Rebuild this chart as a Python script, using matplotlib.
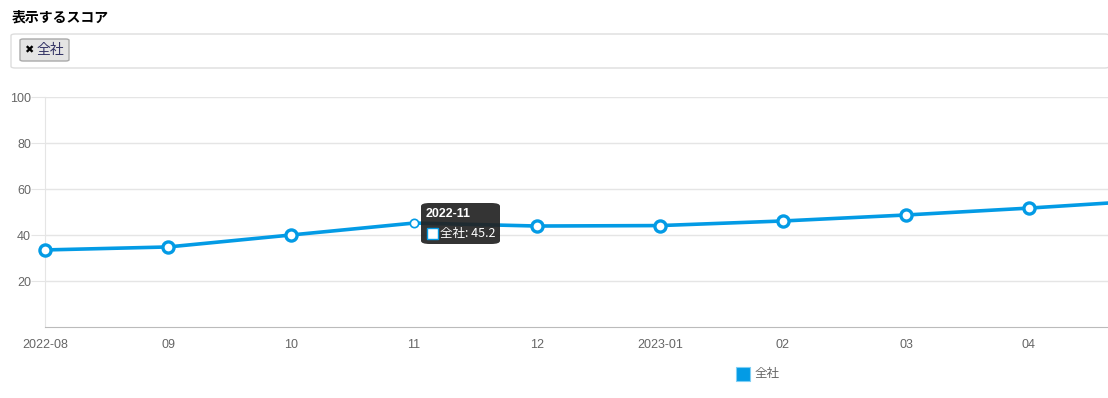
import matplotlib.pyplot as plt
from matplotlib.patches import FancyBboxPatch, Rectangle

plt.rcParams["font.family"] = ["Liberation Sans", "Noto Sans CJK JP", "DejaVu Sans"]

months = ["2022-08", "09", "10", "11", "12", "2023-01", "02", "03", "04", "05"]
scores = [33.5, 34.8, 40.0, 45.2, 43.9, 44.1, 46.1, 48.7, 51.7, 55.1]
y_ticks = [20, 40, 60, 80, 100]
series_name = "全社"
hover_idx = 3

BLUE = "#039be5"
W, H = 1108, 398
JP = ["Noto Sans CJK JP", "DejaVu Sans"]

fig = plt.figure(figsize=(W / 100, H / 100), dpi=100)

# axes placed in pixel coordinates of the original page
ax = fig.add_axes([45 / W, (H - 327) / H, (W - 45) / W, 230 / H])
x = list(range(len(months)))
ax.plot(x, scores, color=BLUE, lw=2.6, zorder=3)
others = [i for i in x if i != hover_idx]
ax.plot(others, [scores[i] for i in others], "o", ms=8, mfc="white", mec=BLUE, mew=2.4,
        zorder=4, clip_on=False)
# the hovered point is drawn thinner
ax.plot(x[hover_idx], scores[hover_idx], "o", ms=6, mfc="white", mec=BLUE, mew=1.2, zorder=4)
ax.set_xlim(0, (W - 45) / 123)
ax.set_ylim(0, 100)
ax.set_yticks(y_ticks)
ax.set_xticks(x[:-1])
ax.set_xticklabels(months[:-1])
ax.tick_params(axis="y", length=10, color="#e5e5e5", labelcolor="#666666", labelsize=9, pad=0)
ax.tick_params(axis="x", length=0, labelcolor="#666666", labelsize=9, pad=9)
ax.grid(axis="y", color="#e5e5e5", lw=1)
for s in ["top", "right"]:
    ax.spines[s].set_visible(False)
ax.spines["left"].set_color("#e5e5e5")
ax.spines["bottom"].set_color("#bbbbbb")
ax.set_axisbelow(True)

# tooltip for the hovered point
tip = FancyBboxPatch((421 / W, (H - 244) / H), 79 / W, 41 / H,
                     boxstyle="round,pad=0,rounding_size=0.008",
                     transform=fig.transFigure, fc="#222222", ec="none", alpha=0.92, zorder=10)
fig.add_artist(tip)
fig.text(426 / W, (H - 214) / H, "2022-11", color="white", fontsize=9, fontweight="bold",
         va="center", zorder=11)
fig.add_artist(Rectangle((427 / W, (H - 239) / H), 11 / W, 11 / H, transform=fig.transFigure,
                         fc="white", ec=BLUE, lw=1, zorder=11))
fig.text(440 / W, (H - 233) / H, f"{series_name}: {scores[hover_idx]}",
         color="white", fontsize=9, va="center", zorder=11, family=JP)

# legend
fig.add_artist(Rectangle((736 / W, (H - 381) / H), 14 / W, 14 / H, transform=fig.transFigure,
                         fc=BLUE, ec="#7fcff5", lw=0.8))
fig.text(755 / W, (H - 373) / H, series_name, color="#666666", fontsize=9, va="center", family=JP)

# header with the score selector
fig.text(12 / W, (H - 18) / H, "表示するスコア", fontsize=10, fontweight="bold", va="center",
         family=JP)
fig.add_artist(FancyBboxPatch((11 / W, (H - 68) / H), (W - 10) / W, 34 / H,
                              boxstyle="round,pad=0,rounding_size=0.004",
                              transform=fig.transFigure, fc="white", ec="#dddddd", lw=1))
fig.add_artist(FancyBboxPatch((20 / W, (H - 61) / H), 49 / W, 22 / H,
                              boxstyle="round,pad=0,rounding_size=0.003",
                              transform=fig.transFigure, fc="#e4e4e4", ec="#aaaaaa", lw=1))
fig.text(24 / W, (H - 50) / H, "✖", fontsize=8, va="center", family="DejaVu Sans")
fig.text(37 / W, (H - 50) / H, series_name, fontsize=10, color="#333366", va="center", family=JP)

fig.savefig("out.png", dpi=100)
